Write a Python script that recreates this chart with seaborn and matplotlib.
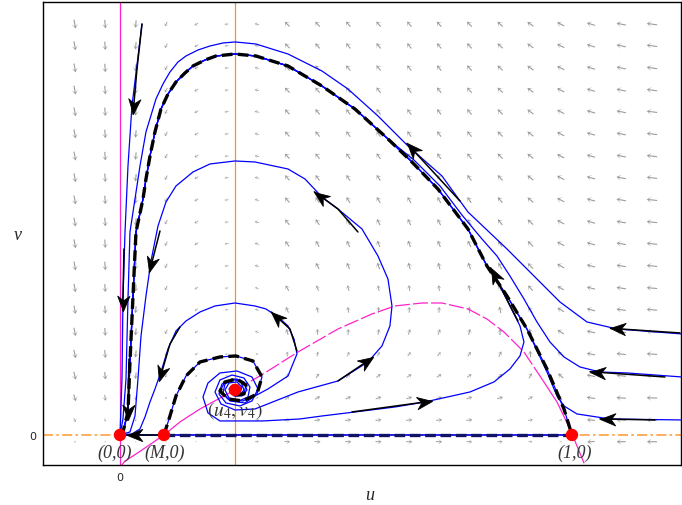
import numpy as np
import matplotlib
matplotlib.use("Agg")
import matplotlib.pyplot as plt
from matplotlib.path import Path
from matplotlib.markers import MarkerStyle
from matplotlib.transforms import Affine2D
import seaborn as sns

# ---- equilibria ----
EQ_U = [0.0, 0.0973, 1.0, 0.2544]
EQ_V = [0.0, 0.0, 0.0, 0.0996]

# ---- direction field (grid) ----
U_GRID = [-0.100, -0.033, 0.035, 0.102, 0.169, 0.236, 0.303, 0.370, 0.437, 0.505,
          0.572, 0.640, 0.706, 0.773, 0.841, 0.908, 0.975, 1.042, 1.109, 1.177]
V_GRID = [0.909, 0.861, 0.812, 0.763, 0.715, 0.666, 0.617, 0.569, 0.520, 0.471,
          0.423, 0.374, 0.325, 0.277, 0.228, 0.179, 0.131, 0.082, 0.033, -0.015]

# arrow direction in degrees, top row first
FIELD_ANGLE = [
    [-80, -86, -95, -120, -148, -175, 168, 135, 132, 130, 130, 130, 131, 134, 139, 145, 153, 163, 168, 172],
    [-80, -86, -95, -120, -148, -175, 168, 135, 131, 129, 129, 129, 130, 133, 138, 145, 153, 163, 168, 172],
    [-80, -86, -95, -120, -148, -175, 168, 134, 131, 129, 129, 128, 129, 132, 138, 144, 153, 163, 168, 172],
    [-80, -86, -95, -120, -148, -175, 167, 134, 130, 128, 128, 127, 128, 132, 137, 144, 153, 163, 168, 172],
    [-80, -86, -95, -120, -148, -175, 167, 133, 130, 127, 127, 126, 127, 130, 136, 143, 152, 163, 169, 173],
    [-80, -86, -95, -120, -147, -175, 167, 132, 129, 126, 125, 125, 126, 129, 135, 143, 152, 164, 169, 173],
    [-80, -86, -95, -120, -147, -175, 167, 132, 128, 125, 124, 123, 124, 128, 134, 142, 152, 164, 169, 173],
    [-80, -86, -95, -120, -147, -175, 166, 131, 126, 123, 122, 121, 122, 126, 132, 141, 152, 164, 169, 173],
    [-80, -86, -95, -120, -147, -174, 166, 130, 125, 121, 120, 119, 119, 123, 130, 140, 152, 164, 170, 174],
    [-80, -86, -95, -120, -146, -174, 166, 128, 123, 119, 117, 115, 116, 120, 128, 138, 151, 164, 170, 174],
    [-80, -86, -95, -120, -146, -174, 165, 126, 120, 116, 113, 111, 112, 116, 125, 136, 151, 164, 170, 174],
    [-80, -86, -95, -120, -146, -174, 164, 124, 117, 112, 108, 106, 106, 111, 120, 134, 150, 165, 171, 174],
    [-80, -86, -95, -120, -145, -174, 163, 120, 112, 106, 101, 98, 97, 103, 113, 130, 150, 165, 171, 175],
    [-80, -86, -95, -120, -144, -173, 161, 115, 106, 98, 92, 87, 86, 92, 103, 124, 149, 166, 172, 175],
    [-79, -86, -96, -120, -143, -173, 157, 107, 95, 85, 78, 72, 70, 75, 87, 114, 147, 167, 172, 176],
    [-78, -85, -96, -120, -141, -171, 147, 92, 78, 67, 59, 53, 51, 54, 64, 95, 144, 168, 173, 176],
    [-76, -84, -96, -120, -136, -166, 97, 69, 55, 45, 38, 34, 32, 34, 39, 62, 139, 169, 174, 177],
    [-72, -83, -97, -119, -124, -39, 18, 37, 29, 24, 20, 18, 17, 17, 19, 28, 119, 171, 176, 178],
    [-62, -79, -101, -116, -49, -3, 4, 11, 9, 8, 7, 6, 6, 6, 6, 8, 30, 175, 178, 179],
    [60, 80, 99, 52, 8, 1, -1, -4, -3, -3, -3, -3, -3, -3, -3, -2, -6, -176, -179, 180],
]
_TOP = [0.9, 0.85, 0.75, 0.5, 0.45, 0.4, 0.45, 0.68, 0.68, 0.68, 0.68, 0.68, 0.68, 0.7, 0.72, 0.75, 0.8, 0.85, 0.95, 1.05]
_MID = [0.85, 0.8, 0.7, 0.5, 0.4, 0.35, 0.4, 0.62, 0.58, 0.58, 0.58, 0.58, 0.58, 0.62, 0.66, 0.7, 0.75, 0.85, 0.95, 1.05]
FIELD_LEN = [_TOP] * 12 + [_MID] * 3 + [
    [0.85, 0.8, 0.7, 0.45, 0.35, 0.3, 0.3, 0.5, 0.5, 0.5, 0.5, 0.5, 0.5, 0.55, 0.6, 0.65, 0.75, 0.85, 0.95, 1.05],
    [0.8, 0.75, 0.65, 0.4, 0.3, 0.25, 0.2, 0.5, 0.55, 0.55, 0.55, 0.55, 0.55, 0.55, 0.6, 0.6, 0.7, 0.85, 0.95, 1.05],
    [0.7, 0.6, 0.5, 0.3, 0.2, 0.15, 0.3, 0.55, 0.6, 0.6, 0.6, 0.6, 0.6, 0.6, 0.6, 0.55, 0.55, 0.85, 0.95, 1.05],
    [0.45, 0.35, 0.3, 0.2, 0.15, 0.2, 0.4, 0.55, 0.6, 0.6, 0.6, 0.6, 0.6, 0.6, 0.55, 0.5, 0.35, 0.8, 0.95, 1.05],
    [0.25, 0.2, 0.15, 0.1, 0.15, 0.2, 0.4, 0.55, 0.6, 0.6, 0.6, 0.6, 0.6, 0.55, 0.5, 0.4, 0.25, 0.75, 0.9, 1.0],
]

# ---- prey nullcline (curved branch) ----
PINK_U = [0.0044, 0.0111, 0.0288, 0.0619, 0.0973, 0.1327, 0.1770, 0.2544, 0.3097, 0.3938, 0.4823, 0.5575,
          0.6084, 0.6681, 0.7124, 0.7699, 0.8119, 0.8496, 0.8938, 0.9292, 0.9668, 0.9956, 1.0111, 1.0265]
PINK_V = [-0.0664, -0.0575, -0.0465, -0.0243, 0.0, 0.0288, 0.0575, 0.0996, 0.1305, 0.1836, 0.2345, 0.2677,
          0.2854, 0.2920, 0.2920, 0.2788, 0.2566, 0.2279, 0.1836, 0.1305, 0.0730, 0.0133, -0.0243, -0.0619]

# ---- separatrix (1,0) -> (0,0), listed from the origin ----
D1_U = [0.0, 0.0066, 0.0177, 0.0221, 0.0288, 0.0354, 0.0509, 0.0575, 0.0664, 0.0774, 0.0907, 0.1062,
        0.1239, 0.1438, 0.1615, 0.1881, 0.2124, 0.2544, 0.3009, 0.3717, 0.4469, 0.5199, 0.5929, 0.6460,
        0.7035, 0.7699, 0.8119, 0.8562, 0.9004, 0.9447, 0.9823, 1.0]
D1_V = [0.0, 0.0066, 0.0509, 0.1615, 0.3075, 0.4491, 0.5221, 0.5664, 0.6173, 0.6704, 0.7212, 0.7544,
        0.7810, 0.8009, 0.8164, 0.8296, 0.8385, 0.8429, 0.8385, 0.8164, 0.7721, 0.7212, 0.6549, 0.6040,
        0.5442, 0.4558, 0.3739, 0.3075, 0.2345, 0.1460, 0.0575, 0.0]

# ---- separatrix (M,0) -> spiral ----
D2_U = [0.0973, 0.1106, 0.1239, 0.1460, 0.1770, 0.2212, 0.2566, 0.2942, 0.3142, 0.3031, 0.2721, 0.2389,
        0.2212, 0.2323, 0.2588, 0.2788, 0.2743, 0.2566, 0.2478, 0.2544]
D2_V = [0.0, 0.0420, 0.0863, 0.1305, 0.1615, 0.1726, 0.1748, 0.1637, 0.1283, 0.0907, 0.0752, 0.0796,
        0.0973, 0.1173, 0.1239, 0.1106, 0.0907, 0.0885, 0.0996, 0.0996]

# ---- trajectories ----
T1_U = [0.0487, 0.0265, 0.0177, 0.0111, 0.0066, 0.0044, 0.0]
T1_V = [0.9093, 0.7280, 0.5950, 0.4490, 0.3010, 0.1240, 0.0]

OUTER_U = [1.2434, 1.0996, 1.0332, 0.9735, 0.9159, 0.8562, 0.7699, 0.7124, 0.6372, 0.5708, 0.5044, 0.4469,
           0.3717, 0.3009, 0.2788, 0.2544, 0.2279, 0.1991, 0.1726, 0.1460, 0.1283, 0.1106, 0.0951, 0.0796,
           0.0575, 0.0442, 0.0332, 0.0221, 0.0177, 0.0133, 0.0066, 0.0]
OUTER_V = [0.2235, 0.2345, 0.2500, 0.2942, 0.3518, 0.4115, 0.4934, 0.5730, 0.6394, 0.7058, 0.7655, 0.8053,
           0.8429, 0.8650, 0.8673, 0.8695, 0.8673, 0.8606, 0.8518, 0.8385, 0.8252, 0.8031, 0.7765, 0.7434,
           0.6704, 0.5951, 0.5221, 0.4491, 0.3009, 0.1239, 0.0354, 0.0]

TMID_U = [1.2434, 1.1217, 1.0619, 1.0177, 0.9823, 0.9513, 0.9226, 0.8938, 0.8628, 0.8341, 0.8009, 0.7566,
          0.7080, 0.6504] + D1_U[22::-1]
TMID_V = [0.1283, 0.1372, 0.1394, 0.1504, 0.1726, 0.2058, 0.2500, 0.3009, 0.3518, 0.3960, 0.4336, 0.4867,
          0.5509, 0.6084] + D1_V[22::-1]

TBOT_U = [1.2434, 1.0841, 1.0111, 0.9823, 0.9668, 0.9447] + D1_U[28::-1]
TBOT_V = [0.0332, 0.0354, 0.0465, 0.0642, 0.0863, 0.1394] + D1_V[28::-1]

T9_U = [0.2544, 0.2588, 0.2500, 0.2412, 0.2478, 0.2655, 0.2743, 0.2677, 0.2478, 0.2257, 0.2190, 0.2345,
        0.2655, 0.2920, 0.3053, 0.2920, 0.2588, 0.2212, 0.1947, 0.1836, 0.1947, 0.2212, 0.3164, 0.3982,
        0.4469, 0.5199, 0.6084, 0.6748, 0.7743, 0.8274, 0.8628, 0.8850, 0.8938, 0.8850, 0.8628, 0.8407] + D1_U[26::-1]
T9_V = [0.0996, 0.1062, 0.1106, 0.1018, 0.0907, 0.0885, 0.0996, 0.1173, 0.1239, 0.1128, 0.0907, 0.0708,
        0.0642, 0.0752, 0.1018, 0.1283, 0.1416, 0.1372, 0.1150, 0.0841, 0.0487, 0.0310, 0.0310, 0.0354,
        0.0420, 0.0509, 0.0619, 0.0730, 0.0951, 0.1173, 0.1460, 0.1748, 0.2058, 0.2412, 0.2854, 0.3296] + D1_V[26::-1]

T8_U = [0.2544, 0.2478, 0.2434, 0.2522, 0.2655, 0.2699, 0.2588, 0.2412, 0.2323, 0.2412, 0.2633, 0.2832,
        0.2876, 0.2743, 0.2478, 0.2212, 0.2102, 0.2235, 0.2544, 0.2987, 0.3938, 0.4823, 0.5487, 0.5796,
        0.5973, 0.6018, 0.5929, 0.5708, 0.5354, 0.4823, 0.4469, 0.4093, 0.3717, 0.2987, 0.2544, 0.1991,
        0.1615, 0.1239, 0.1018, 0.0841, 0.0686, 0.0575, 0.0465, 0.0398, 0.0332, 0.0221, 0.0]
T8_V = [0.0996, 0.1040, 0.0951, 0.0885, 0.0929, 0.1062, 0.1173, 0.1150, 0.0996, 0.0819, 0.0752, 0.0841,
        0.1062, 0.1261, 0.1327, 0.1217, 0.0951, 0.0686, 0.0553, 0.0575, 0.0951, 0.1195, 0.1615, 0.1969,
        0.2412, 0.2854, 0.3451, 0.3960, 0.4558, 0.5000, 0.5265, 0.5664, 0.5885, 0.6040, 0.6062, 0.5996,
        0.5819, 0.5509, 0.5155, 0.4624, 0.3850, 0.3075, 0.2190, 0.1239, 0.0420, 0.0066, 0.0]

TP_U = [0.2544, 0.2611, 0.2677, 0.2611, 0.2478, 0.2434, 0.2522, 0.2699, 0.2810, 0.2743, 0.2522, 0.2323,
        0.2279, 0.2434, 0.2765, 0.2987, 0.3274, 0.3717, 0.3916, 0.3850, 0.3717, 0.3496, 0.3230, 0.2987,
        0.2544, 0.2102, 0.1770, 0.1460, 0.1239, 0.1062, 0.0907, 0.0774, 0.0664, 0.0553, 0.0442, 0.0265, 0.0]
TP_V = [0.0996, 0.0951, 0.1018, 0.1106, 0.1084, 0.0973, 0.0863, 0.0863, 0.0996, 0.1173, 0.1239, 0.1128,
        0.0929, 0.0752, 0.0708, 0.0863, 0.1018, 0.1305, 0.1792, 0.2124, 0.2412, 0.2611, 0.2788, 0.2854,
        0.2920, 0.2854, 0.2721, 0.2522, 0.2301, 0.1903, 0.1394, 0.1018, 0.0730, 0.0398, 0.0133, 0.0022, 0.0]

# start segments with arrow heads (last point is the tip)
ARROWS = [
    [(0.0487, 0.9093), (0.0376, 0.8097), (0.0288, 0.7100)],
    [(0.0088, 0.4115), (0.0060, 0.2750)],
    [(0.0199, 0.1681), (0.0170, 0.0330)],
    [(0.0885, 0.4513), (0.0650, 0.3600)],
    [(0.1327, 0.2389), (0.1106, 0.2013), (0.0870, 0.1200)],
    [(0.0885, 0.0), (0.0150, 0.0)],
    [(0.3916, 0.1858), (0.3761, 0.2345), (0.3350, 0.2720)],
    [(0.4823, 0.1195), (0.5600, 0.1720)],
    [(0.5133, 0.0509), (0.6900, 0.0750)],
    [(0.5265, 0.4491), (0.4823, 0.5000), (0.4300, 0.5380)],
    [(0.7522, 0.5177), (0.6350, 0.6450)],
    [(0.8805, 0.2522), (0.8200, 0.3700)],
    [(1.2389, 0.2257), (1.0850, 0.2360)],
    [(1.2058, 0.1283), (1.0400, 0.1400)],
    [(1.1836, 0.0332), (1.0620, 0.0356)],
]

sns.set_style("white")
plt.rcParams["mathtext.fontset"] = "stix"

fig = plt.figure(figsize=(6.82, 5.06), dpi=100)
ax = fig.add_axes([0.0630, 0.0791, 0.9355, 0.9150])
ax.set_xlim(-0.1704, 1.2412)
ax.set_ylim(-0.0664, 0.9580)


def curve(u, v, **kw):
    sns.lineplot(x=u, y=v, sort=False, estimator=None, ax=ax, legend=False, **kw)


# direction field
gu, gv = np.meshgrid(U_GRID, V_GRID)
ang = np.radians(np.array(FIELD_ANGLE, dtype=float))
ln = np.array(FIELD_LEN)
ax.quiver(gu, gv, ln * np.cos(ang), ln * np.sin(ang), angles="uv",
          scale_units="inches", scale=10, units="dots", width=1.1,
          headwidth=5.5, headlength=4.2, headaxislength=2.0, minshaft=1.5,
          pivot="mid", color="#9c9c9c", zorder=1)

# nullclines
pink = "#ff22cc"
orange = "#ff9020"
ax.axvline(0, color=pink, lw=0.9, zorder=2)
ax.axvline(EQ_U[3], color=orange, lw=0.9, zorder=2)
ax.axhline(0, color="#ffa040", lw=1.2, linestyle=(0, (6, 2, 1.5, 2)), zorder=2)
curve(PINK_U[:8], PINK_V[:8], color=pink, lw=0.9, zorder=2)
curve(PINK_U[7:20], PINK_V[7:20], color=pink, lw=0.9, linestyle=(0, (12, 2.5)), zorder=2)
curve(PINK_U[19:], PINK_V[19:], color=pink, lw=0.9, zorder=2)

# trajectories
blue = "#0000ff"
for tu, tv in [(T1_U, T1_V), (OUTER_U, OUTER_V), (TMID_U, TMID_V), (TBOT_U, TBOT_V),
               (T9_U, T9_V), (T8_U, T8_V), (TP_U, TP_V), (D2_U, D2_V), (D1_U, D1_V)]:
    curve(tu, tv, color=blue, lw=0.9, zorder=3)
curve([EQ_U[0], EQ_U[2]], [0.0, 0.0], color=blue, lw=1.2, zorder=3)

# separatrices
curve(D1_U, D1_V, color="black", lw=2.4, linestyle=(0, (3.2, 1.6)), zorder=4)
curve(D2_U, D2_V, color="black", lw=2.4, linestyle=(0, (3.2, 1.6)), zorder=4)
curve([EQ_U[1], EQ_U[2]], [0.0, 0.0], color="#121266", lw=2.4, linestyle=(0, (3.2, 1.4)), zorder=4)

# start arrows with a swept-back head
head = Path([(0, 0), (-1, 0.4), (-0.7, 0), (-1, -0.4), (0, 0)],
            [Path.MOVETO, Path.LINETO, Path.LINETO, Path.LINETO, Path.CLOSEPOLY])
for seg in ARROWS:
    su = [p[0] for p in seg]
    sv = [p[1] for p in seg]
    ax.plot(su, sv, color="black", lw=1.1, zorder=5)
    a = np.degrees(np.arctan2(sv[-1] - sv[-2], su[-1] - su[-2]))
    ax.plot([su[-1]], [sv[-1]], ls="none", color="black", markersize=22, mew=0.6,
            marker=MarkerStyle(head, transform=Affine2D().rotate_deg(a)), zorder=6)

# equilibria
ax.scatter(EQ_U, EQ_V, s=80, color="red", edgecolors="none", zorder=7)
lab = dict(fontsize=13, family="Liberation Serif", style="italic", color="#333333",
           ha="center", va="center", zorder=8)
ax.text(-0.011, -0.0376, "(0,0)", **lab)
ax.text(0.0996, -0.0376, "(M,0)", **lab)
ax.text(1.0066, -0.0376, "(1,0)", **lab)
ax.text(0.2544, 0.0560, r"$(u_4,v_4)$", fontsize=14, color="#333333", ha="center", va="center", zorder=8)

# axes decoration
ax.set_xticks([0])
ax.set_yticks([0])
ax.set_xticklabels(["0"])
ax.set_yticklabels(["0"])
ax.tick_params(length=0, labelsize=8, pad=5)
for s in ax.spines.values():
    s.set_color("black")
    s.set_linewidth(1.0)
ax.text(0.5125, -0.063, "u", transform=ax.transAxes, fontsize=13, family="Liberation Serif",
        style="italic", ha="center", va="center")
ax.text(-0.039, 0.497, "v", transform=ax.transAxes, fontsize=13, family="Liberation Serif",
        style="italic", ha="center", va="center")

fig.savefig("out.png", dpi=100)
